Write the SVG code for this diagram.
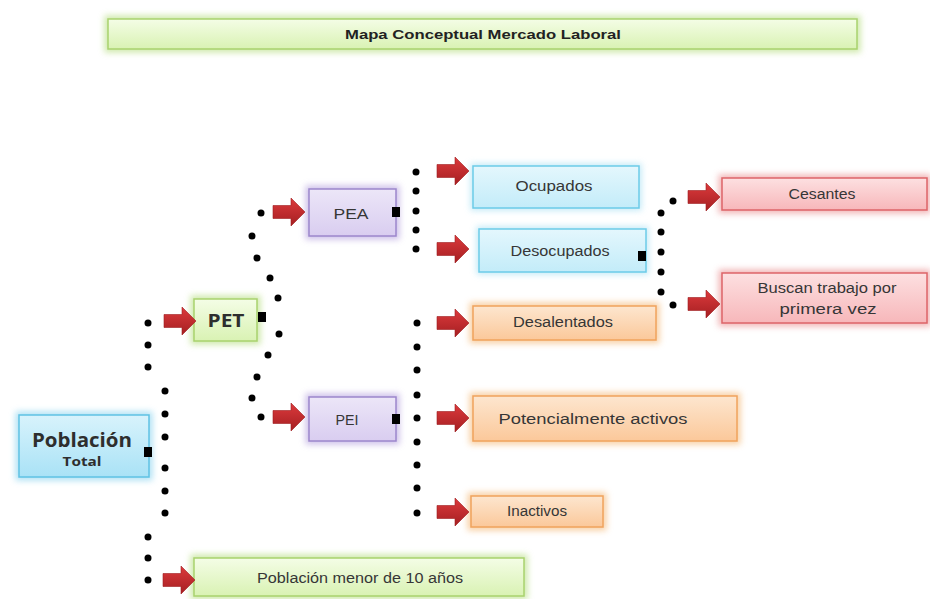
<svg xmlns="http://www.w3.org/2000/svg" width="930" height="599" viewBox="0 0 930 599">
<defs>
<style>
.t{font-family:"Liberation Sans",Arial,sans-serif;font-size:14px;fill:#363636;text-anchor:middle}
.tb{font-family:"Liberation Sans",Arial,sans-serif;font-size:13px;font-weight:bold;fill:#222;text-anchor:middle}
.tc{font-family:"Open Sans","Noto Sans",sans-serif;font-weight:bold;fill:#2e2e2e;text-anchor:middle}
.halo{filter:url(#blur);opacity:.7}
.dot{fill:#000}
.sq{fill:#000}
.green .halo{fill:#b9df85;stroke:#b9df85;stroke-width:7}
.green .box{fill:url(#gGreen);stroke:#a9d26e;stroke-width:1.5}
.blue .halo{fill:#8fd6f0;stroke:#8fd6f0;stroke-width:7}
.blue .box{fill:url(#gBlue);stroke:#5fc2e4;stroke-width:1.5}
.lblue .halo{fill:#a9e1f4;stroke:#a9e1f4;stroke-width:5}
.lblue .box{fill:url(#gLBlue);stroke:#6ccbe8;stroke-width:1.5}
.purple .halo{fill:#b9a6e0;stroke:#b9a6e0;stroke-width:7}
.purple .box{fill:url(#gPurple);stroke:#9c86cc;stroke-width:1.5}
.orange .halo{fill:#f5bb7e;stroke:#f5bb7e;stroke-width:7}
.orange .box{fill:url(#gOrange);stroke:#f0a35c;stroke-width:1.5}
.pink .halo{fill:#eb9598;stroke:#eb9598;stroke-width:7}
.pink .box{fill:url(#gPink);stroke:#dd6468;stroke-width:1.5}
</style>
<filter id="blur" x="-20%" y="-50%" width="140%" height="200%"><feGaussianBlur stdDeviation="3"/></filter>
<linearGradient id="gGreen" x1="0" y1="0" x2="0" y2="1"><stop offset="0" stop-color="#f4fde6"/><stop offset="1" stop-color="#d9f2b3"/></linearGradient>
<linearGradient id="gBlue" x1="0" y1="0" x2="0" y2="1"><stop offset="0" stop-color="#d8f3fc"/><stop offset="1" stop-color="#a9e2f6"/></linearGradient>
<linearGradient id="gLBlue" x1="0" y1="0" x2="0" y2="1"><stop offset="0" stop-color="#e4f7fd"/><stop offset="1" stop-color="#c3ecf9"/></linearGradient>
<linearGradient id="gPurple" x1="0" y1="0" x2="0" y2="1"><stop offset="0" stop-color="#ece6f8"/><stop offset="1" stop-color="#d9cdf0"/></linearGradient>
<linearGradient id="gOrange" x1="0" y1="0" x2="0" y2="1"><stop offset="0" stop-color="#fde6cf"/><stop offset="1" stop-color="#fbc89a"/></linearGradient>
<linearGradient id="gPink" x1="0" y1="0" x2="0" y2="1"><stop offset="0" stop-color="#fde0e1"/><stop offset="1" stop-color="#f7b7ba"/></linearGradient>
<linearGradient id="gRed" x1="0" y1="0" x2="0" y2="1"><stop offset="0" stop-color="#dc3a3c"/><stop offset="1" stop-color="#a51f22"/></linearGradient>
<path id="arr" d="M0,-6.5 H18 V-14 L32,0 L18,14 V6.5 H0 Z" fill="url(#gRed)" stroke="#9e1c1f" stroke-width="0.6"/>
</defs>
<rect width="930" height="599" fill="#fff"/>

<g id="title" class="green">
<rect class="halo" x="108" y="19" width="749" height="30"/>
<rect class="box" x="108" y="19" width="749" height="30"/>
<text class="tb" x="483" y="39" textLength="276" lengthAdjust="spacingAndGlyphs">Mapa Conceptual Mercado Laboral</text>
</g>

<g id="poblacion" class="blue">
<rect class="halo" x="19" y="415" width="130" height="62"/>
<rect class="box" x="19" y="415" width="130" height="62"/>
<text class="tc" x="82" y="447" font-size="20" textLength="100" lengthAdjust="spacingAndGlyphs">Población</text>
<text class="tc" x="82" y="466" font-size="13" textLength="39" lengthAdjust="spacingAndGlyphs">Total</text>
</g>

<g id="pet" class="green">
<rect class="halo" x="194" y="299" width="63" height="42"/>
<rect class="box" x="194" y="299" width="63" height="42"/>
<text class="tc" x="226" y="327" font-size="18" textLength="37" lengthAdjust="spacingAndGlyphs">PET</text>
</g>

<g id="pea" class="purple">
<rect class="halo" x="309" y="189" width="87" height="47"/>
<rect class="box" x="309" y="189" width="87" height="47"/>
<text class="t" x="351" y="219" textLength="35" lengthAdjust="spacingAndGlyphs">PEA</text>
</g>

<g id="pei" class="purple">
<rect class="halo" x="309" y="397" width="87" height="44"/>
<rect class="box" x="309" y="397" width="87" height="44"/>
<text class="t" x="347" y="425" textLength="23" lengthAdjust="spacingAndGlyphs">PEI</text>
</g>

<g id="ocupados" class="lblue">
<rect class="halo" x="473" y="166" width="166" height="42"/>
<rect class="box" x="473" y="166" width="166" height="42"/>
<text class="t" x="554" y="191" textLength="77" lengthAdjust="spacingAndGlyphs">Ocupados</text>
</g>

<g id="desocupados" class="lblue">
<rect class="halo" x="479" y="229" width="167" height="43"/>
<rect class="box" x="479" y="229" width="167" height="43"/>
<text class="t" x="560" y="256" textLength="99" lengthAdjust="spacingAndGlyphs">Desocupados</text>
</g>

<g id="desalentados" class="orange">
<rect class="halo" x="473" y="306" width="183" height="34"/>
<rect class="box" x="473" y="306" width="183" height="34"/>
<text class="t" x="563" y="327" textLength="100" lengthAdjust="spacingAndGlyphs">Desalentados</text>
</g>

<g id="potencialmente" class="orange">
<rect class="halo" x="473" y="396" width="264" height="45"/>
<rect class="box" x="473" y="396" width="264" height="45"/>
<text class="t" x="593" y="424" textLength="189" lengthAdjust="spacingAndGlyphs">Potencialmente activos</text>
</g>

<g id="inactivos" class="orange">
<rect class="halo" x="471" y="496" width="132" height="31"/>
<rect class="box" x="471" y="496" width="132" height="31"/>
<text class="t" x="537" y="516" textLength="60" lengthAdjust="spacingAndGlyphs">Inactivos</text>
</g>

<g id="cesantes" class="pink">
<rect class="halo" x="722" y="178" width="205" height="32"/>
<rect class="box" x="722" y="178" width="205" height="32"/>
<text class="t" x="822" y="199" textLength="67" lengthAdjust="spacingAndGlyphs">Cesantes</text>
</g>

<g id="buscan" class="pink">
<rect class="halo" x="722" y="273" width="205" height="50"/>
<rect class="box" x="722" y="273" width="205" height="50"/>
<text class="t" x="827" y="293" textLength="139" lengthAdjust="spacingAndGlyphs">Buscan trabajo por</text>
<text class="t" x="828" y="314" textLength="97" lengthAdjust="spacingAndGlyphs">primera vez</text>
</g>

<g id="menor10" class="green">
<rect class="halo" x="194" y="558" width="330" height="38"/>
<rect class="box" x="194" y="558" width="330" height="38"/>
<text class="t" x="360" y="583" textLength="206" lengthAdjust="spacingAndGlyphs">Población menor de 10 años</text>
</g>

<g id="connectors">
<g class="dot">
<circle cx="148" cy="323" r="3.5"/><circle cx="148" cy="345" r="3.5"/><circle cx="148" cy="367" r="3.5"/>
<circle cx="165" cy="391" r="3.5"/><circle cx="165" cy="414" r="3.5"/><circle cx="165" cy="437" r="3.5"/>
<circle cx="165" cy="468" r="3.5"/><circle cx="165" cy="491" r="3.5"/><circle cx="165" cy="513" r="3.5"/>
<circle cx="148" cy="537" r="3.5"/><circle cx="148" cy="558" r="3.5"/><circle cx="148" cy="580" r="3.5"/>

<circle cx="261" cy="213" r="3.5"/><circle cx="252" cy="236" r="3.5"/><circle cx="257" cy="258" r="3.5"/>
<circle cx="270" cy="278" r="3.5"/><circle cx="278" cy="298" r="3.5"/><circle cx="279" cy="334" r="3.5"/>
<circle cx="268" cy="355" r="3.5"/><circle cx="257" cy="377" r="3.5"/><circle cx="252" cy="398" r="3.5"/>
<circle cx="261" cy="417" r="3.5"/>

<circle cx="416" cy="172" r="3.5"/><circle cx="416" cy="191" r="3.5"/><circle cx="416" cy="211" r="3.5"/>
<circle cx="416" cy="230" r="3.5"/><circle cx="416" cy="249" r="3.5"/>

<circle cx="673" cy="201" r="3.5"/><circle cx="661" cy="213" r="3.5"/><circle cx="661" cy="232" r="3.5"/>
<circle cx="661" cy="252" r="3.5"/><circle cx="661" cy="272" r="3.5"/><circle cx="661" cy="292" r="3.5"/>
<circle cx="673" cy="305" r="3.5"/>

<circle cx="417" cy="323" r="3.5"/><circle cx="417" cy="347" r="3.5"/><circle cx="417" cy="370" r="3.5"/>
<circle cx="417" cy="395" r="3.5"/><circle cx="417" cy="418" r="3.5"/><circle cx="417" cy="442" r="3.5"/>
<circle cx="417" cy="465" r="3.5"/><circle cx="417" cy="488" r="3.5"/><circle cx="417" cy="513" r="3.5"/>
</g>
<g class="sq">
<rect x="144" y="447" width="8" height="10"/>
<rect x="258" y="312" width="8" height="10"/>
<rect x="392" y="207" width="8" height="10"/>
<rect x="392" y="414" width="8" height="10"/>
<rect x="638" y="251" width="8" height="10"/>
</g>
<use href="#arr" x="164" y="321"/>
<use href="#arr" x="273" y="212"/>
<use href="#arr" x="273" y="417"/>
<use href="#arr" x="437" y="171"/>
<use href="#arr" x="437" y="249"/>
<use href="#arr" x="437" y="323"/>
<use href="#arr" x="437" y="418"/>
<use href="#arr" x="437" y="512"/>
<use href="#arr" x="688" y="197"/>
<use href="#arr" x="688" y="304"/>
<use href="#arr" x="163" y="580"/>
</g>
</svg>
